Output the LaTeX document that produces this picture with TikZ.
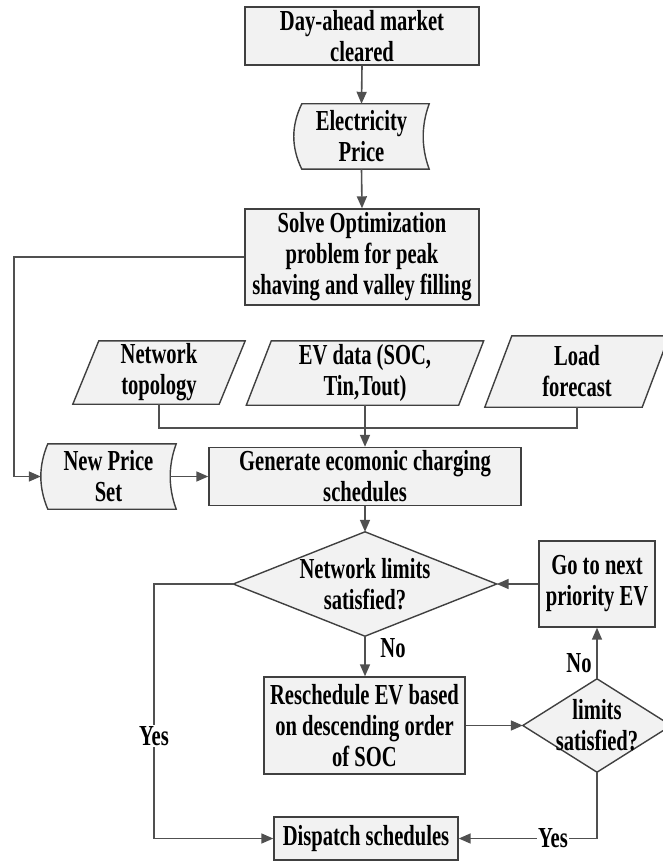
\documentclass[tikz,border=0pt]{standalone}
\usepackage{fontspec}
\setmainfont{Liberation Serif}[FakeStretch=0.71]
\usetikzlibrary{arrows.meta,backgrounds,calc}
\definecolor{boxfill}{HTML}{F2F2F2}
\definecolor{edgecol}{HTML}{404040}
\definecolor{wirecol}{HTML}{505050}
\tikzset{
  txt/.style={font=\fontsize{29}{31}\selectfont\bfseries, align=center, inner sep=0pt, text=black},
  procbox/.style={txt, rectangle, draw=edgecol, fill=boxfill, line width=1.4pt},
  plain/.style={txt, rectangle},
  outline/.style={draw=edgecol, fill=boxfill, line width=1.4pt},
  wire/.style={draw=wirecol, line width=1.6pt},
  arr/.style={wire, -{Triangle[length=12pt,width=10pt]}},
  lbl/.style={font=\fontsize{29}{31}\selectfont\bfseries, inner sep=1.5pt, text=black},
}
\begin{document}
\begin{tikzpicture}[x=1pt,y=-1pt]
\useasboundingbox (0,0) rectangle (662,861);
\clip (0,0) rectangle (662,861);

% boxes
\node[procbox, minimum width=234, minimum height=58] (da) at (362,36) {Day-ahead market\\cleared};
\node[plain, minimum width=135, minimum height=65] (ep) at (361.5,136.5) {Electricity\\Price};
\node[procbox, minimum width=234, minimum height=96] (solve) at (362,257) {Solve Optimization\\problem for peak\\shaving and valley filling};
\node[plain, minimum width=146, minimum height=63] (nt) at (159,372.5) {Network\\topology};
\node[plain, minimum width=212, minimum height=64] (ev) at (365,373) {EV data (SOC,\\Tin,Tout)};
\node[plain, minimum width=157, minimum height=71] (lf) at (577,371.5) {Load\\forecast};
\node[plain, minimum width=135, minimum height=65] (nps) at (108.5,476.5) {New Price\\Set};
\node[procbox, minimum width=312, minimum height=58] (gen) at (365,476.5) {Generate ecomonic charging\\schedules};
\node[plain, minimum width=263, minimum height=104] (nl) at (365,584) {Network limits\\satisfied?};
\node[procbox, minimum width=116, minimum height=86] (go) at (597,584) {Go to next\\priority EV};
\node[procbox, minimum width=201, minimum height=97] (rs) at (364.5,725.5) {Reschedule EV based\\on descending order\\of SOC};
\node[plain, minimum width=148, minimum height=93] (sd) at (597,725.5) {limits\\satisfied?};
\node[procbox, minimum width=184, minimum height=43] (dis) at (366,838.5) {Dispatch schedules};

% special outlines
\begin{scope}[on background layer]
  % stored data shapes
  \path[outline] ($(ep.north west)+(8,0)$) -- (ep.north east)
     .. controls ($(ep.north east)+(-8,22)$) and ($(ep.south east)+(-8,-22)$) .. (ep.south east)
     -- ($(ep.south west)+(8,0)$)
     .. controls ($(ep.south west)+(-2.7,-22)$) and ($(ep.north west)+(-2.7,22)$) .. cycle;
  \path[outline] ($(nps.north west)+(7,0)$) -- (nps.north east)
     .. controls ($(nps.north east)+(-8,22)$) and ($(nps.south east)+(-8,-22)$) .. (nps.south east)
     -- ($(nps.south west)+(7,0)$)
     .. controls ($(nps.south west)+(-2.3,-22)$) and ($(nps.north west)+(-2.3,22)$) .. cycle;
  % parallelograms
  \path[outline] ($(nt.north west)+(13,0)$) -- ($(nt.north east)+(13,0)$) -- ($(nt.south east)+(-13,0)$) -- ($(nt.south west)+(-13,0)$) -- cycle;
  \path[outline] ($(ev.north west)+(12.5,0)$) -- ($(ev.north east)+(12.5,0)$) -- ($(ev.south east)+(-12.5,0)$) -- ($(ev.south west)+(-12.5,0)$) -- cycle;
  \path[outline] ($(lf.north west)+(13.5,0)$) -- ($(lf.north east)+(13.5,0)$) -- ($(lf.south east)+(-13.5,0)$) -- ($(lf.south west)+(-13.5,0)$) -- cycle;
  % diamonds
  \path[outline] (nl.north) -- (nl.east) -- (nl.south) -- (nl.west) -- cycle;
  \path[outline] (sd.north) -- (sd.east) -- (sd.south) -- (sd.west) -- cycle;
\end{scope}

% connectors
\coordinate (lt) at (14,257);
\coordinate (jn) at (365,428);
\coordinate (yl) at (154,584);

\draw[arr] (da.south) -- (ep.north);
\draw[arr] (ep.south) -- (solve.north);
\draw[arr] (solve.west) -- (lt) |- (nps.west);
\draw[arr] ($(nps.east)+(-6,0)$) -- (gen.west);
\draw[wire] (nt.south) |- (jn);
\draw[wire] (lf.south) |- (jn);
\draw[arr] (ev.south) -- (gen.north);
\draw[arr] (gen.south) -- (nl.north);
\draw[arr] (go.west) -- (nl.east);
\draw[arr] (nl.south) -- (nl.south |- rs.north);
\draw[arr] (rs.east) -- (sd.west);
\draw[arr] (sd.north) -- (go.south);
\draw[arr] (nl.west) -- (yl) |- (dis.west);
\draw[arr] (sd.south) |- (dis.east);

% labels
\node[lbl, fill=white] (yes1) at (154,736) {Yes};
\node[lbl] (no1) at (393,648) {No};
\node[lbl] (no2) at (579,663) {No};
\node[lbl, fill=white] (yes2) at (553,838.5) {Yes};
\end{tikzpicture}
\end{document}
